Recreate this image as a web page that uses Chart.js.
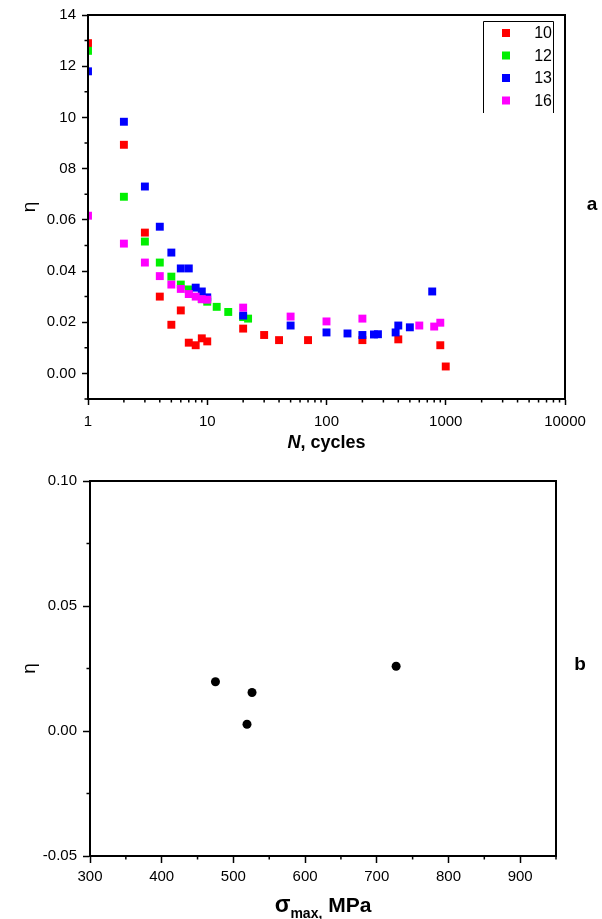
<!DOCTYPE html>
<html>
<head>
<meta charset="utf-8">
<script src="https://cdn.jsdelivr.net/npm/chart.js@4.4.1/dist/chart.umd.min.js"></script>
<style>
  html, body { margin: 0; padding: 0; background: #fff; }
  #wrap { position: relative; width: 602px; height: 919px; overflow: hidden; }
  .panel { position: absolute; left: 0; width: 602px; }
</style>
</head>
<body>
<div id="wrap">
  <div class="panel" style="top:0;height:460px"><canvas id="chartA" width="602" height="460"></canvas></div>
  <div class="panel" style="top:460px;height:459px"><canvas id="chartB" width="602" height="459"></canvas></div>
</div>
<script>
// ---- panel a: eta vs N (log), one series per specimen ----
const seriesNames = ['10', '12', '13', '16'];
const seriesColors = ['#ff0000', '#00f000', '#0000ff', '#ff00ff'];

const cycles10 = [1, 2, 3, 4, 5, 6, 7, 8, 9, 10, 20, 30, 40, 70, 200, 400, 900, 1000];
const eta10 = [0.129, 0.0893, 0.055, 0.030, 0.019, 0.0246, 0.012, 0.011, 0.0137, 0.0125, 0.0175, 0.015, 0.013, 0.013, 0.013, 0.0133, 0.011, 0.0027];

const cycles12 = [1, 2, 3, 4, 5, 6, 7, 9, 10, 12, 15, 20, 22];
const eta12 = [0.126, 0.069, 0.0515, 0.0433, 0.0378, 0.0347, 0.0328, 0.029, 0.028, 0.026, 0.024, 0.022, 0.0214];

const cycles13 = [1, 2, 3, 4, 5, 6, 7, 8, 9, 10, 20, 50, 100, 150, 200, 250, 270, 380, 400, 500, 770];
const eta13 = [0.118, 0.0983, 0.073, 0.0573, 0.0472, 0.041, 0.041, 0.0335, 0.032, 0.0297, 0.0226, 0.0187, 0.016, 0.0156, 0.015, 0.0152, 0.0153, 0.016, 0.0187, 0.018, 0.032];

const cycles16 = [1, 2, 3, 4, 5, 6, 7, 8, 9, 10, 20, 50, 100, 200, 600, 800, 900];
const eta16 = [0.0616, 0.0507, 0.0433, 0.038, 0.0347, 0.033, 0.031, 0.030, 0.029, 0.0288, 0.0257, 0.0222, 0.0203, 0.0214, 0.0187, 0.0183, 0.0198];

const xTicksA = [1, 10, 100, 1000, 10000];
const yTicksA = [0, 0.02, 0.04, 0.06, 0.08, 0.10, 0.12, 0.14];

// ---- panel b: eta vs max stress ----
const stressB = [475, 519, 526, 727];
const etaB = [0.0197, 0.0027, 0.0154, 0.0259];

const xTicksB = [300, 400, 500, 600, 700, 800, 900];
const yTicksB = [-0.05, 0, 0.05, 0.10];

const FONT = "'Liberation Sans', Arial, sans-serif";
Chart.defaults.font.family = FONT;
Chart.defaults.color = '#000';

function pairs(xs, ys) {
  return xs.map((x, i) => ({ x: x, y: ys[i] }));
}

// minor tick marks, frame, titles and panel letter
function decor(cfg) {
  return {
    id: 'decor',
    afterDatasetsDraw(chart) {
      const ctx = chart.ctx, a = chart.chartArea;
      const sx = chart.scales.x, sy = chart.scales.y;
      ctx.save();
      ctx.strokeStyle = '#000';
      ctx.lineWidth = 1.5;
      ctx.beginPath();
      cfg.minorX.forEach(v => {
        const px = sx.getPixelForValue(v);
        ctx.moveTo(px, a.bottom); ctx.lineTo(px, a.bottom + 3.5);
      });
      cfg.minorY.forEach(v => {
        const py = sy.getPixelForValue(v);
        ctx.moveTo(a.left, py); ctx.lineTo(a.left - 3.5, py);
      });
      ctx.stroke();
      ctx.lineWidth = 2;
      ctx.strokeRect(a.left, a.top, a.right - a.left, a.bottom - a.top);
      ctx.restore();
    },
    afterDraw(chart) {
      const ctx = chart.ctx, a = chart.chartArea;
      const cx = (a.left + a.right) / 2, cy = (a.top + a.bottom) / 2;
      ctx.save();
      ctx.fillStyle = '#000';
      // y title
      ctx.translate(30, cy);
      ctx.rotate(-Math.PI / 2);
      ctx.font = '19px ' + FONT;
      ctx.textAlign = 'center';
      ctx.textBaseline = 'middle';
      ctx.fillText('η', 0, 0);
      ctx.restore();

      ctx.save();
      ctx.fillStyle = '#000';
      ctx.textBaseline = 'alphabetic';
      ctx.textAlign = 'left';
      let w = 0;
      cfg.title.forEach(p => { ctx.font = p.font; p.w = ctx.measureText(p.text).width; w += p.w; });
      let x = cx - w / 2;
      cfg.title.forEach(p => {
        ctx.font = p.font;
        ctx.fillText(p.text, x, cfg.titleY + (p.dy || 0));
        x += p.w;
      });
      ctx.font = 'bold 19px ' + FONT;
      ctx.textAlign = 'center';
      ctx.textBaseline = 'middle';
      ctx.fillText(cfg.letter, cfg.letterX, cfg.letterY);

      if (cfg.legend) {
        const L = cfg.legend;
        ctx.strokeStyle = '#000';
        ctx.lineWidth = 1;
        ctx.beginPath();
        ctx.moveTo(L.left + 0.5, L.bottom); ctx.lineTo(L.left + 0.5, L.top + 0.5);
        ctx.lineTo(L.right + 0.5, L.top + 0.5); ctx.lineTo(L.right + 0.5, L.bottom);
        ctx.stroke();
        ctx.font = '16px ' + FONT;
        ctx.textAlign = 'right';
        chart.data.datasets.forEach((ds, i) => {
          const y = L.top + 12 + i * 22.5;
          ctx.fillStyle = ds.backgroundColor;
          ctx.fillRect(L.left + 19, y - 4, 8, 8);
          ctx.fillStyle = '#000';
          ctx.fillText(ds.label, L.right - 1, y + 1);
        });
      }
      ctx.restore();
    }
  };
}

const minorXA = [];
[1, 10, 100, 1000].forEach(d => { for (let k = 2; k <= 9; k++) minorXA.push(d * k); });
const minorYA = [-0.01, 0.01, 0.03, 0.05, 0.07, 0.09, 0.11, 0.13];

new Chart(document.getElementById('chartA'), {
  type: 'scatter',
  data: {
    datasets: seriesNames.map((name, i) => ({
      label: name,
      data: pairs([cycles10, cycles12, cycles13, cycles16][i], [eta10, eta12, eta13, eta16][i]),
      backgroundColor: seriesColors[i],
      borderColor: seriesColors[i],
      pointStyle: 'rect',
      pointRadius: 5.6,
      pointBorderWidth: 0,
      order: 4 - i,
      clip: 0
    }))
  },
  options: {
    responsive: false,
    animation: false,
    events: [],
    layout: { padding: { left: 0, top: 15, right: 37, bottom: 0 } },
    plugins: { legend: { display: false }, tooltip: { enabled: false } },
    scales: {
      x: {
        type: 'logarithmic',
        min: 1, max: 10000,
        afterBuildTicks: s => { s.ticks = xTicksA.map(v => ({ value: v, major: true })); },
        afterFit: s => { s.height = 61; },
        ticks: { font: { size: 15 }, padding: 8, maxRotation: 0, autoSkip: false, callback: v => String(v) },
        grid: { drawOnChartArea: false, tickLength: 6, tickWidth: 1.5, tickColor: '#000' },
        border: { display: true, color: '#000', width: 2 }
      },
      y: {
        type: 'linear',
        min: -0.01, max: 0.14,
        afterBuildTicks: s => { s.ticks = yTicksA.map(v => ({ value: v })); },
        afterFit: s => { s.width = 88; },
        ticks: {
          font: { size: 15 }, padding: 6, autoSkip: false,
          // the source figure shows the upper labels without their leading "0."
          callback: v => v >= 0.075 ? String(Math.round(v * 100)).padStart(2, '0') : v.toFixed(2)
        },
        grid: { drawOnChartArea: false, tickLength: 6, tickWidth: 1.5, tickColor: '#000' },
        border: { display: true, color: '#000', width: 2 }
      }
    }
  },
  plugins: [decor({
    minorX: minorXA,
    minorY: minorYA,
    title: [
      { text: 'N', font: 'italic bold 18px ' + FONT },
      { text: ', cycles', font: 'bold 18px ' + FONT }
    ],
    titleY: 448,
    letter: 'a', letterX: 592, letterY: 205,
    legend: { left: 483, right: 553, top: 21, bottom: 113 }
  })]
});

new Chart(document.getElementById('chartB'), {
  type: 'scatter',
  data: {
    datasets: [{
      label: 'eta',
      data: pairs(stressB, etaB),
      backgroundColor: '#000',
      borderColor: '#000',
      pointStyle: 'circle',
      pointRadius: 4.5,
      pointBorderWidth: 0
    }]
  },
  options: {
    responsive: false,
    animation: false,
    events: [],
    layout: { padding: { left: 0, top: 21, right: 46, bottom: 0 } },
    plugins: { legend: { display: false }, tooltip: { enabled: false } },
    scales: {
      x: {
        type: 'linear',
        min: 300, max: 950,
        afterBuildTicks: s => { s.ticks = xTicksB.map(v => ({ value: v })); },
        afterFit: s => { s.height = 63; },
        ticks: { font: { size: 15 }, padding: 5, maxRotation: 0, autoSkip: false, callback: v => String(v) },
        grid: { drawOnChartArea: false, tickLength: 7, tickWidth: 1.5, tickColor: '#000' },
        border: { display: true, color: '#000', width: 2 }
      },
      y: {
        type: 'linear',
        min: -0.05, max: 0.10,
        afterBuildTicks: s => { s.ticks = yTicksB.map(v => ({ value: v })); },
        afterFit: s => { s.width = 90; },
        ticks: { font: { size: 15 }, padding: 6, autoSkip: false, callback: v => v.toFixed(2) },
        grid: { drawOnChartArea: false, tickLength: 7, tickWidth: 1.5, tickColor: '#000' },
        border: { display: true, color: '#000', width: 2 }
      }
    }
  },
  plugins: [decor({
    minorX: [350, 450, 550, 650, 750, 850, 950],
    minorY: [-0.025, 0.025, 0.075],
    title: [
      { text: 'σ', font: 'bold 23px ' + FONT },
      { text: 'max,', font: 'bold 14px ' + FONT, dy: 6 },
      { text: ' MPa', font: 'bold 21px ' + FONT }
    ],
    titleY: 452,
    letter: 'b', letterX: 580, letterY: 205
  })]
});
</script>
</body>
</html>
